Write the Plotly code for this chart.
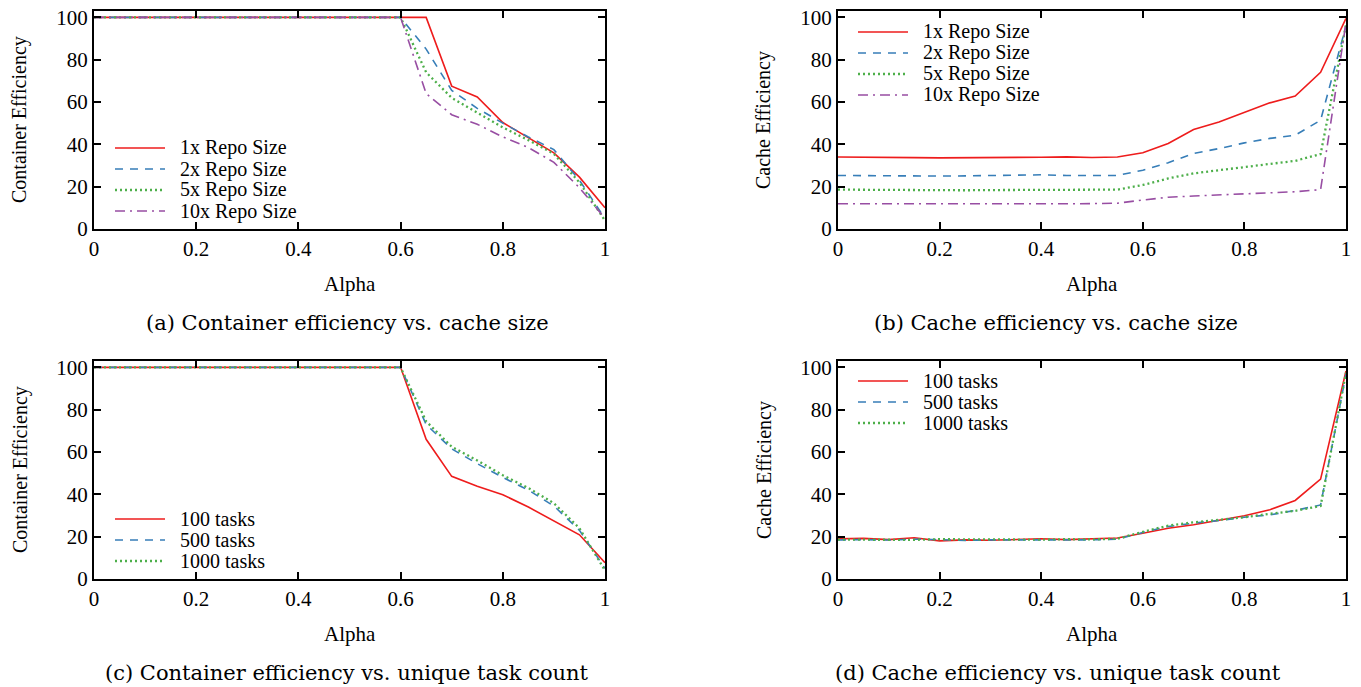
import plotly.graph_objects as go

# the page body adds an 8 px margin around the figure, so the figure is
# made 8 px smaller and every pixel position below is shifted by 8 px
OFF = 8
W, H = 1361 - OFF, 687 - OFF

alpha = [round(i * 0.05, 2) for i in range(21)]

# (a) Container efficiency vs. cache size
a_1x = [100]*14 + [67.5, 62.4, 50.3, 43.0, 36.0, 24.5, 10.0]
a_2x = [100]*13 + [85.0, 65.5, 57.0, 50.0, 43.5, 37.5, 23.0, 5.0]
a_5x = [100]*13 + [74.0, 62.0, 55.0, 48.0, 42.0, 35.5, 22.0, 4.0]
a_10x = [100]*13 + [64.0, 54.0, 49.5, 43.5, 38.5, 31.5, 19.5, 5.0]

# (b) Cache efficiency vs. cache size
b_1x = [34.0, 33.8, 33.8, 33.7, 33.6, 33.6, 33.8, 33.8, 33.9, 34.1, 33.8,
        34.0, 36.0, 40.4, 47.0, 50.6, 55.0, 59.6, 62.8, 74.0, 99.5]
b_2x = [25.3, 25.2, 25.0, 25.1, 25.0, 25.1, 25.2, 25.3, 25.6, 25.3, 25.2,
        25.3, 27.8, 31.3, 35.7, 38.0, 40.7, 42.8, 44.3, 51.4, 96.0]
b_5x = [18.6, 18.5, 18.4, 18.3, 18.2, 18.3, 18.4, 18.5, 18.4, 18.5, 18.5,
        18.6, 20.8, 23.9, 26.3, 27.8, 29.4, 30.7, 32.2, 35.4, 96.5]
b_10x = [11.9, 11.9, 11.8, 11.7, 11.6, 11.7, 11.8, 11.8, 11.9, 11.9, 12.0,
         12.2, 13.7, 15.0, 15.6, 16.0, 16.5, 17.1, 17.6, 18.6, 97.5]

# (c) Container efficiency vs. unique task count
c_100 = [100]*13 + [66.0, 48.5, 43.8, 39.8, 34.0, 27.6, 20.9, 7.7]
c_500 = [100]*13 + [73.0, 61.5, 54.5, 48.0, 42.0, 34.5, 23.0, 5.0]
c_1000 = [100]*13 + [74.5, 62.5, 56.0, 49.0, 43.0, 35.8, 24.0, 4.0]

# (d) Cache efficiency vs. unique task count
d_100 = [19.0, 19.2, 18.6, 19.5, 18.0, 18.5, 18.3, 18.5, 19.0, 18.6, 19.0,
         19.4, 21.6, 24.0, 25.6, 27.6, 29.9, 32.7, 37.1, 47.2, 98.3]
d_500 = [18.4, 18.6, 18.4, 18.8, 18.6, 18.2, 18.5, 18.6, 18.4, 18.5, 18.5,
         18.8, 22.0, 24.8, 26.4, 27.6, 29.2, 30.3, 32.4, 35.0, 96.7]
d_1000 = [18.6, 18.5, 18.7, 18.5, 18.8, 18.7, 18.6, 18.7, 18.6, 18.8, 18.7,
          19.0, 22.3, 25.2, 26.8, 28.0, 29.2, 30.8, 32.2, 34.5, 97.5]

size_names = ["1x Repo Size", "2x Repo Size", "5x Repo Size", "10x Repo Size"]
task_names = ["100 tasks", "500 tasks", "1000 tasks"]

x_ticks = [0, 0.2, 0.4, 0.6, 0.8, 1]
x_ticktext = ["0", "0.2", "0.4", "0.6", "0.8", "1"]
y_ticks = [0, 20, 40, 60, 80, 100]

x_title = "Alpha"
y_titles = ["Container Efficiency", "Cache Efficiency", "Container Efficiency", "Cache Efficiency"]
captions = ["(a) Container efficiency vs. cache size",
            "(b) Cache efficiency vs. cache size",
            "(c) Container efficiency vs. unique task count",
            "(d) Cache efficiency vs. unique task count"]

# styles
colors = ["#ee1c1c", "#377eb8", "#4daf4a", "#984ea3"]
dashes = ["solid", "8px,7px", "2px,3px", "10px,5px,2px,5px"]
widths = [1.6, 1.6, 2.3, 1.6]

FONT = "Liberation Serif, Times New Roman, serif"
CAPFONT = "DejaVu Serif, serif"

# panel frames in page pixels: (left, right, top, bottom)
panels = [(94, 605, 11, 229), (838, 1346, 11, 229),
          (94, 605, 361, 579), (838, 1346, 361, 579)]
caption_cx = [347, 1056, 347, 1058]

def px(x):
    return (x - OFF) / W

def py(y):
    return 1 - (y - OFF) / H

fig = go.Figure()

series = [
    (list(zip(size_names, [a_1x, a_2x, a_5x, a_10x]))),
    (list(zip(size_names, [b_1x, b_2x, b_5x, b_10x]))),
    (list(zip(task_names, [c_100, c_500, c_1000]))),
    (list(zip(task_names, [d_100, d_500, d_1000]))),
]

for i, (l, r, t, b) in enumerate(panels):
    k = "" if i == 0 else str(i + 1)
    for j, (name, vals) in enumerate(series[i]):
        fig.add_trace(go.Scatter(
            x=alpha, y=vals, mode="lines", name=name, showlegend=False,
            line=dict(color=colors[j], dash=dashes[j], width=widths[j]),
            xaxis="x" + k, yaxis="y" + k))
    axcommon = dict(showline=True, linecolor="black", linewidth=2, mirror="ticks",
                    ticks="inside", ticklen=7, tickwidth=1.5, tickcolor="black",
                    showgrid=False, zeroline=False, automargin=False,
                    ticklabeloverflow="allow",
                    tickfont=dict(family=FONT, size=21, color="black"))
    fig.layout["xaxis" + k] = dict(axcommon, domain=[px(l), px(r)], range=[0, 1],
                                   tickvals=x_ticks, ticktext=x_ticktext,
                                   anchor="y" + k)
    fig.layout["yaxis" + k] = dict(axcommon, domain=[py(b), py(t)], range=[0, 103],
                                   tickvals=y_ticks, anchor="x" + k)
    cx = (l + r) / 2
    cy = (t + b) / 2
    fig.add_annotation(text=x_title, x=px(cx), y=py(b + 55), xref="paper", yref="paper",
                       showarrow=False, font=dict(family=FONT, size=21, color="black"),
                       xanchor="center", yanchor="middle")
    fig.add_annotation(text=y_titles[i], x=px(l - 74), y=py(cy), xref="paper", yref="paper",
                       showarrow=False, textangle=-90,
                       font=dict(family=FONT, size=20, color="black"),
                       xanchor="center", yanchor="middle")
    fig.add_annotation(text=captions[i], x=px(caption_cx[i]), y=py(b + 94),
                       xref="paper", yref="paper",
                       showarrow=False, font=dict(family=CAPFONT, size=21, color="black"),
                       xanchor="center", yanchor="middle")

# legends (drawn as decorations)
legend_pos = [(115, 148), (858, 32), (115, 519), (858, 381)]
for i, (lx, ly) in enumerate(legend_pos):
    for j, (name, _) in enumerate(series[i]):
        yy = ly + j * 21
        fig.add_shape(type="line", xref="paper", yref="paper",
                      x0=px(lx), x1=px(lx + 50), y0=py(yy), y1=py(yy),
                      line=dict(color=colors[j], dash=dashes[j], width=widths[j]))
        fig.add_annotation(text=name, x=px(lx + 63), y=py(yy), xref="paper", yref="paper",
                           showarrow=False, xanchor="left", yanchor="middle",
                           font=dict(family=FONT, size=20, color="black"))

fig.update_layout(width=W, height=H, margin=dict(l=0, r=0, t=0, b=0, autoexpand=False),
                  template="none",
                  paper_bgcolor="white", plot_bgcolor="white", showlegend=False)

fig.write_html("out.html")
